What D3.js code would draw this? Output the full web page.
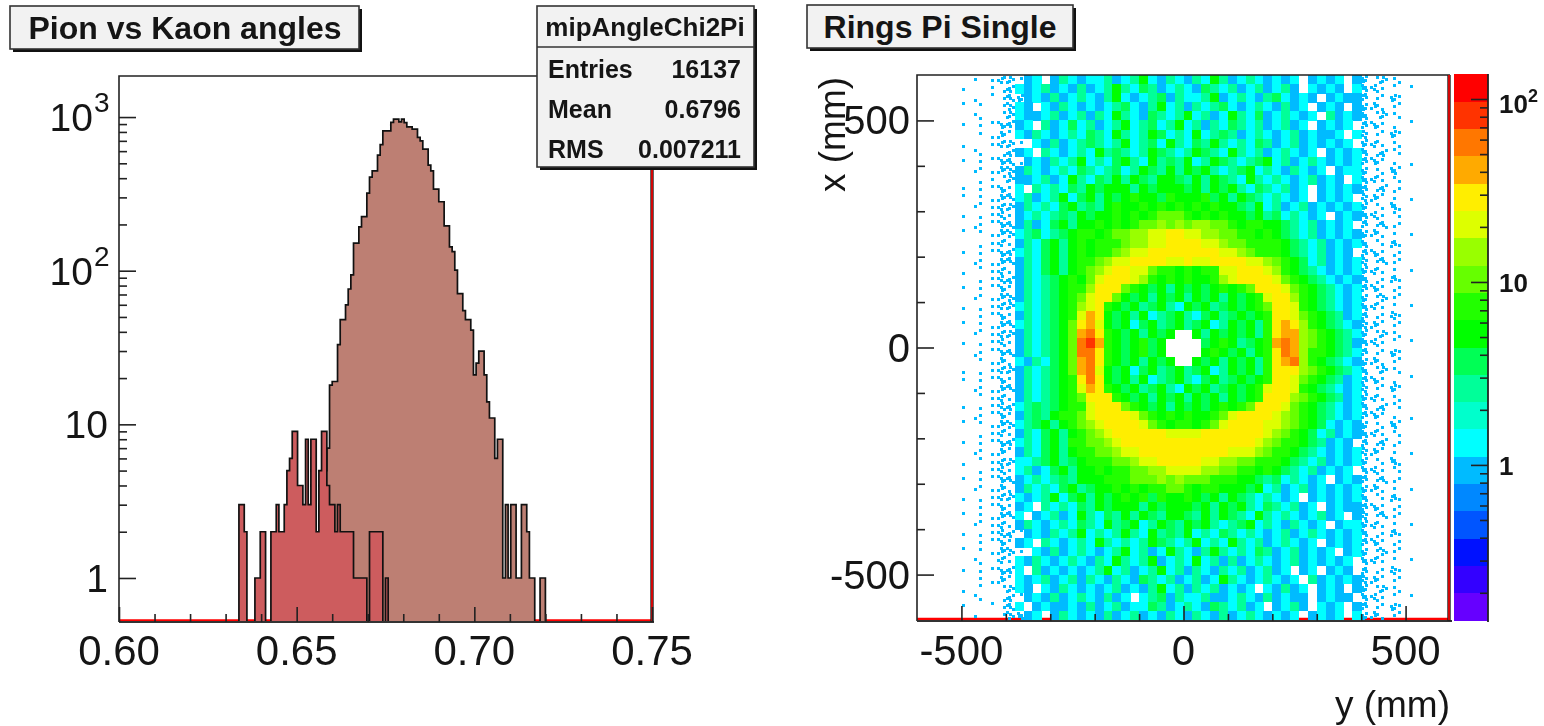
<!DOCTYPE html>
<html lang="en">
<head>
<meta charset="utf-8">
<script src="https://cdn.jsdelivr.net/npm/d3@7"></script>
<style>
  html, body { margin: 0; padding: 0; background: #fff; }
  svg { display: block; filter: blur(0.45px); font-family: "Liberation Sans", Arial, sans-serif; }
</style>
</head>
<body>
<script>
// left histogram: counts per bin, 200 bins over 0.60 - 0.75
const binCount = 200
const angleRange = [0.60, 0.75]
const pionFirstBin = 72
const pionCounts = [1,2,1,3,4,5,7,18,19,19,33,48,48,60,76,94,151,151,193,225,225,320,406,447,447,565,661,813,813,813,922,968,968,930,968,920,864,864,834,834,737,700,618,618,486,447,340,340,281,281,196,196,143,133,101,71,71,55,48,48,41,21,25,30,30,21,14,11,11,6,8,8,1,3,1,3,3,1,1,3,3,2,1,1,0,0,1,1]
const kaonFirstBin = 45
const kaonCounts = [3,3,2,0,0,0,1,1,2,2,0,0,2,2,3,2,2,3,5,6,9,9,4,4,3,8,3,8,8,2,5,9,9,4,3,3,2,3,2,2,2,2,2,1,1,1,1,1,0,2,2,2,2,2,0,1]
const angleMajor = [0.60, 0.65, 0.70, 0.75]
const angleMinor = [0.61,0.62,0.63,0.64,0.66,0.67,0.68,0.69,0.71,0.72,0.73,0.74]
const countMajor = [1, 10, 100, 1000]
const countMinor = [2,3,4,5,6,7,8,9,20,30,40,50,60,70,80,90,200,300,400,500,600,700,800,900]

const statsTitle = 'mipAngleChi2Pi'
const statsNames = ['Entries', 'Mean', 'RMS']
const statsValues = ['16137', '0.6796', '0.007211']

// right map: palette level per 20 mm cell, rows from x=+600 down, columns from y=-600
// . = empty, z = one single hit, y = a few single hits, a..n = palette levels
const ringRows = [
'......z.zyyzab.acbabbcabcfbacbacbfcabcbabab.abab.ayzyzz.....',
'.....z..zzybabcabacabcfcbecabcbaecbcabcabca.baba.byyzz.z....',
'......z.zzyyabacabcbacfbabceacbbcfabcbacebaba.abaayzzyz.....',
'.....z.z.zyba.bacbababcebacfbcacbcebabcbacab.aba.ayyzzz.....',
'......zz.zybaabcabcacbfcbaecbcfbcabfcbeabcbab.cabayzyzz.....',
'.....z.zzyyab.cabebcabcfbcebcfbcacbecbcabcab.abab.yyzz.z....',
'.......zzyzbacbabcbecbfcbcfebcbfbcecabcbabcabaab.byzzyz.....',
'.....z..zyyz.bacabcecbcfbcebfcbecfcbcbecabcababab.yyzzz.....',
'......zz.zyab.cbabcbfcecbcfecbcfecbfcbcabcbab.ababyzyzz.....',
'.....z.zzyyzabacbcfbcbefcbfcecfbcfecbcefbcabcbababyyzz.z....',
'......zzzyyacbabcbecbcebcfecfcfefcbcefbcbacbab.abbyzzyz.....',
'.......zzzyaabcabfcbecfcfecffecfcfecbfcbcbabcaba.byyzzz.....',
'.....z.zzyzb.cbcbecfefffcfefffefcfefcbecbcab.ababayzyzz.....',
'.....z.zzyybcabcfbefcfefgffegfffgefcfecbcbab.abab.yyzz.z....',
'......zzzyyacbcbefcecfgffgfgfgfgfgffecfbcabcabababyzzyz.....',
'.....z.zzyzabcbcecfeffgfgfghhhgfgfgffefcebcbab.abayyzzz.....',
'......zzzyyacabefcffgfgfghhihihiihhgfggffecbcabab.yzyzz.....',
'.....z.zzyybcebcefggfghhiijjkkjjiihhggfgfecbcababayyzz.z....',
'.......zzyzacbefcfgfggghiijjkkkkjjihhggggfecbcababyzzyz.....',
'.....z.zzyybcbefcfgfgghijjkkkkkkkkjjihgggfecbcaba.yyzzz.....',
'......zzzyyacbefcfgghijjkkkkjjkjjkkkkjjihgfebcababyzyzz.....',
'.....z.zzyzacbefcfghijkkjjhggfgfggjjkkkjigfecbababyyzz.z....',
'.......zzyyacbcefgfhjkkkjigfgfgffgijkkkkjhgfecbabayzzyz.....',
'.....z.zzyzacbcefggikkkhgfefcfefefgfghkkkjhgfecbabyyzzz.....',
'......zzzyyacbcefghjkkhfefcfefcfefcfefgjkkigfecbabyzyzz.....',
'.....z.zzyybcbcefgijkgfefcefcbfefcefefghkkjgfecbabyyzz.z....',
'.......zzyzacbcefgjlkfefcfbcefcbefcefefgkkjhgfecabyzzyz.....',
'.....z.zzyybcbcefhkljfefbefcefcefbcfefcgklkigfecbayyzzz.....',
'......zzzyyacbcefhlmkgfefcfef..fcfefefcgkllihgfecbyzyzz.....',
'.....z.zzyzacbcefhmnlgfefgef....efgfcefglmlihgfecayyzz.z....',
'......zzzyyacbcefhmmkgfefgef....fgfefcfgkmliggfecbyzzyz.....',
'.......zzyzbacbefhlmkgfefcfef..fefcfefcgklmigfecbayyzzz.....',
'.....z.zzyyacbcefhlmjfefbefcefcefbcfefcgkkkihgfecbyzyzz.....',
'.....z.zzyzacbcefgkmkfefcfbcefcbefcefefgkkjhgfecabyyzz.z....',
'......zzzyyacbcefgjlkgfefcefcbfefcefefgjkkjgfecbabyzzyz.....',
'.......zzyzacbcefghkkkgfefcfefcfefcfefgkkkihgfecabyyzzz.....',
'.....z.zzyybcecefggjkkkhgfefcfefefgfghkkkjhgfecbabyzyzz.....',
'......zzzyzacecfgghjkkkkjhgfgfgffghjkkkkjihgfecbabyyzz.z....',
'.....z.zzyybcefcfghijkkkkjhgfggfghjkkkkjjihgfebabayzzyz.....',
'.......zzyzacbefcfghijkkkkkkjjjjkkkkkkkjihgfebcabayyzzz.....',
'.....z.zzyybcbefcgghhijkkkkkkkkkkkkkkkjihggfecaba.yzyzz.....',
'......zzzyzacbefcfgghhijjkkkkkkkkkkjjjihggfecbababyyzz.z....',
'.....z.zzyybbcefcefggghhijjkkkkkjjiihhgggfecbcababyzzyz.....',
'.......zzyzbcabefcffgfgghhiijjjjiihhggfgfecbcabab.yyzzz.....',
'.....z.zzyyabcbcecfffggghhhihihhhgggffecebcbab.abayzyzz.....',
'......zzzyzacbcbefceffgfgfgghhgfggfffefbcabcabababyyzz.z....',
'.....z.zzyybabcfbefcfefgfgegffgfefcfecbcbab.abababyzzyz.....',
'.......zzyzab.cbcbecfefffcfefffefcfefcbecbcab.abaayyzzz.....',
'.....z.zzyyb.abcabfcbecfcfecffecfcfecbfcbcbabcab.ayzyzz.....',
'......zzzyzacbabcbecbfcefbcfecfefcbcefbcbacbab.abbyyzz.z....',
'.....z.zzyyzabacbcfbcbcfcbfcecfbcbecbcbabcabcbababyzzyz.....',
'.......zzyzab.cbabcbfcbcbcfecbcfbcbfcbcabcbab.ababyyzzz.....',
'.....z.zzyyz.bacabcbabcfbcabfcbacfcbcbecabcabab.abyzyzz.....',
'......zz.yzbacbabcbacbfcbcfabcbfbcacabcbabcababab.yyzz.z....',
'.....z.zzyyb.cabababcfbcabcfbcacbacbcabcab.ab.aba.yzzyz.....',
'.......zzyzbabcabcacbacbaecbcabcabfcbabcbab.cababayyzzz.....',
'.....z.z.zyba.bacbababcabacfbcacbcabab.bacab.aba.ayzyzz.....',
'......zz.zyzabacabcbacab.bceacbbcaabcbacabaa.abaa.yyzz.z....',
'.....z..zzyb.abaabacabcabbecabcbaecbcab.abca.bab.ayzzyz.....',
'......z..zyyab.acbabacabcabacbacbacabcbabab.abab.byyzzz.....'
]
const mapMajor = [-500, 0, 500]
const mapMinor = [-400,-300,-200,-100,100,200,300,400]
const paletteColors = ['#6600ff','#3300ff','#0011ff','#0055ff','#0088ff','#00bbff','#00ffff','#00ffcc','#00ff99','#00ff55','#00ff00','#22ff00','#66ff00','#99ff00','#ddff00','#ffee00','#ffaa00','#ff7700','#ff3300','#ff0000']
const levelKeys = 'abcdefghijklmn'
const keyLevels = [5,6,8,8,9,10,11,12,13,14,15,16,17,18]
const zMajor = [1, 10, 100]
const zMinor = [0.2,0.3,0.4,0.5,0.6,0.7,0.8,0.9,2,3,4,5,6,7,8,9,20,30,40,50,60,70,80,90]

const w = 1544
const h = 726
const ink = '#222'
const svg = d3.select('body').append('svg').attr('width', w).attr('height', h)

function styleAxis (g) {
  g.select('.domain').remove()
  g.selectAll('line').attr('stroke', ink).attr('stroke-width', 1.6)
  g.selectAll('text').remove()
}

function label (x, y, txt, size, anchor, weight) {
  return svg.append('text')
    .attr('x', x).attr('y', y)
    .attr('font-size', size)
    .attr('font-weight', weight || 'normal')
    .attr('text-anchor', anchor || 'middle')
    .attr('fill', '#151515')
    .text(txt)
}

function box (x0, y0, x1, y1) {
  svg.append('rect').attr('x', x0 + 3).attr('y', y0 + 3).attr('width', x1 - x0).attr('height', y1 - y0).attr('fill', '#111')
  svg.append('rect').attr('x', x0).attr('y', y0).attr('width', x1 - x0).attr('height', y1 - y0)
    .attr('fill', '#f2f2f2').attr('stroke', '#333').attr('stroke-width', 1.6)
}

// ---- left panel
const xAngle = d3.scaleLinear().domain(angleRange).range([119, 652])
const yCount = d3.scaleLog().domain([0.517, 1850]).range([622, 76])
const floorCount = yCount.domain()[0]
const binWidth = (angleRange[1] - angleRange[0]) / binCount

svg.append('clipPath').attr('id', 'histClip').append('rect')
  .attr('x', 119).attr('y', 76).attr('width', 533).attr('height', 546)

svg.append('line').attr('x1', 119).attr('x2', 652).attr('y1', 620.5).attr('y2', 620.5)
  .attr('stroke', '#f00').attr('stroke-width', 2.4)

function histPoints (first, counts) {
  const pts = counts.map(function (c, i) {
    return {x: angleRange[0] + (first + i) * binWidth, c: Math.max(c, floorCount)}
  })
  pts.unshift({x: angleRange[0] + first * binWidth, c: floorCount})
  pts.push({x: angleRange[0] + (first + counts.length) * binWidth, c: floorCount})
  return pts
}

const histArea = d3.area().curve(d3.curveStepAfter)
  .x(function (d) { return xAngle(d.x) })
  .y0(622)
  .y1(function (d) { return yCount(d.c) })
const histLine = d3.line().curve(d3.curveStepAfter)
  .x(function (d) { return xAngle(d.x) })
  .y(function (d) { return yCount(d.c) })

const hists = [
  {first: pionFirstBin, counts: pionCounts, fill: '#bd7f73'},
  {first: kaonFirstBin, counts: kaonCounts, fill: '#cd5c5e'}
]
svg.selectAll('g.hist')
  .data(hists)
  .enter()
  .append('g')
  .attr('class', 'hist')
  .attr('clip-path', 'url(#histClip)')
  .each(function (d) {
    const pts = histPoints(d.first, d.counts)
    d3.select(this).append('path').attr('d', histArea(pts)).attr('fill', d.fill)
    d3.select(this).append('path').attr('d', histLine(pts)).attr('fill', 'none').attr('stroke', '#111').attr('stroke-width', 1.7)
  })

// frame and ticks
svg.append('path').attr('d', 'M119,622V76H652').attr('fill', 'none').attr('stroke', ink).attr('stroke-width', 1.6)
svg.append('line').attr('x1', 119).attr('x2', 654).attr('y1', 622).attr('y2', 622).attr('stroke', '#333').attr('stroke-width', 1.8)
svg.append('line').attr('x1', 652).attr('x2', 652).attr('y1', 76).attr('y2', 622).attr('stroke', '#222').attr('stroke-width', 3.4)
svg.append('line').attr('x1', 652).attr('x2', 652).attr('y1', 76).attr('y2', 621).attr('stroke', '#f00').attr('stroke-width', 1.6)

svg.append('g').attr('transform', 'translate(0,622)').call(d3.axisTop(xAngle).tickValues(angleMajor).tickSize(15)).call(styleAxis)
svg.append('g').attr('transform', 'translate(0,622)').call(d3.axisTop(xAngle).tickValues(angleMinor).tickSize(8)).call(styleAxis)
svg.append('g').attr('transform', 'translate(119,0)').call(d3.axisRight(yCount).tickValues(countMajor).tickSize(17)).call(styleAxis)
svg.append('g').attr('transform', 'translate(119,0)').call(d3.axisRight(yCount).tickValues(countMinor).tickSize(8)).call(styleAxis)

angleMajor.forEach(function (v) { label(xAngle(v), 665, d3.format('.2f')(v), 42) })
countMajor.forEach(function (v) {
  const e = Math.round(Math.log10(v))
  label(e > 1 ? 93 : 108, yCount(v) + 14, e === 0 ? '1' : '10', 39, 'end')
  if (e > 1) {
    svg.append('text').attr('x', 94).attr('y', yCount(v) - 5).attr('font-size', 28).attr('fill', '#151515').text(e)
  }
})

box(10, 6, 359, 49)
label(185, 39, 'Pion vs Kaon angles', 32, 'middle', 'bold')

box(537, 6, 754, 167)
svg.append('line').attr('x1', 537).attr('x2', 754).attr('y1', 47).attr('y2', 47).attr('stroke', '#333').attr('stroke-width', 1.6)
label(645, 36, statsTitle, 26, 'middle', 'bold')
statsNames.forEach(function (n, i) {
  label(548, 78 + i * 40, n, 25, 'start', 'bold')
  label(741, 78 + i * 40, statsValues[i], 25, 'end', 'bold')
})

// ---- right panel
const xMap = d3.scaleLinear().domain([-600, 600]).range([917, 1450])
const yMap = d3.scaleLinear().domain([-600, 600]).range([620, 75])
const colorZ = d3.scaleLog().domain([0.142, 137]).range([620, 74])
const colBand = d3.scaleBand().domain(d3.range(60)).range(xMap.range())
const rowBand = d3.scaleBand().domain(d3.range(ringRows.length)).range([yMap(600), yMap(-600)])
const levelBand = d3.scaleBand().domain(d3.range(paletteColors.length)).range([620, 74])
const levelColor = d3.scaleOrdinal().domain(d3.range(paletteColors.length)).range(paletteColors)

svg.append('line').attr('x1', 917).attr('x2', 1450).attr('y1', 619).attr('y2', 619)
  .attr('stroke', '#f00').attr('stroke-width', 2.4)

const cells = []
const dots = []
ringRows.forEach(function (row, r) {
  row.split('').forEach(function (ch, c) {
    const k = levelKeys.indexOf(ch)
    if (k >= 0) cells.push({r: r, c: c, level: keyLevels[k]})
    if (ch === 'z') dots.push({r: r, c: c, n: 0})
    if (ch === 'y') [0, 1, 2, 3].forEach(function (n) { dots.push({r: r, c: c, n: n}) })
  })
})
svg.append('g').attr('shape-rendering', 'crispEdges')
  .selectAll('rect')
  .data(cells)
  .enter()
  .append('rect')
  .attr('x', function (d) { return colBand(d.c) })
  .attr('y', function (d) { return rowBand(d.r) })
  .attr('width', colBand.bandwidth() + 0.5)
  .attr('height', rowBand.bandwidth() + 0.5)
  .attr('fill', function (d) { return levelColor(d.level) })

// sparse hits stay small, nudged inside their cell so they do not line up
svg.append('g').attr('shape-rendering', 'crispEdges')
  .selectAll('rect')
  .data(dots)
  .enter()
  .append('rect')
  .attr('x', function (d) { return colBand(d.c) + (d.r * 7 + d.c * 3 + d.n * 4) % 7 })
  .attr('y', function (d) { return rowBand(d.r) + (d.r * 5 + d.c * 11 + d.n * 5) % 7 })
  .attr('width', 3)
  .attr('height', 3)
  .attr('fill', levelColor(5))

svg.append('path').attr('d', 'M917,621V75H1450').attr('fill', 'none').attr('stroke', ink).attr('stroke-width', 1.6)
svg.append('line').attr('x1', 917).attr('x2', 1452).attr('y1', 621).attr('y2', 621).attr('stroke', '#333').attr('stroke-width', 1.8)
svg.append('line').attr('x1', 1449).attr('x2', 1449).attr('y1', 75).attr('y2', 621).attr('stroke', '#222').attr('stroke-width', 3.4)
svg.append('line').attr('x1', 1449).attr('x2', 1449).attr('y1', 75).attr('y2', 620).attr('stroke', '#f00').attr('stroke-width', 1.6)

svg.append('g').attr('transform', 'translate(0,621)').call(d3.axisTop(xMap).tickValues(mapMajor).tickSize(15)).call(styleAxis)
svg.append('g').attr('transform', 'translate(0,621)').call(d3.axisTop(xMap).tickValues(mapMinor).tickSize(7)).call(styleAxis)
svg.append('g').attr('transform', 'translate(917,0)').call(d3.axisRight(yMap).tickValues(mapMajor).tickSize(17)).call(styleAxis)
svg.append('g').attr('transform', 'translate(917,0)').call(d3.axisRight(yMap).tickValues(mapMinor).tickSize(8)).call(styleAxis)

mapMajor.forEach(function (v) {
  label(xMap(v), 665, v, 42)
  label(910, yMap(v) + 14, v, 40, 'end')
})
label(1450, 717, 'y (mm)', 37, 'end')
svg.append('text')
  .attr('transform', 'translate(845,192) rotate(-90)')
  .attr('font-size', 37).attr('fill', '#151515')
  .text('x (mm)')

box(807, 5, 1073, 48)
label(940, 38, 'Rings Pi Single', 32, 'middle', 'bold')

// palette
svg.append('g').attr('shape-rendering', 'crispEdges')
  .selectAll('rect')
  .data(paletteColors)
  .enter()
  .append('rect')
  .attr('x', 1454)
  .attr('y', function (d, i) { return levelBand(i) })
  .attr('width', 34)
  .attr('height', levelBand.bandwidth() + 0.5)
  .attr('fill', function (d) { return d })

svg.append('line').attr('x1', 1488).attr('x2', 1488).attr('y1', 74).attr('y2', 622).attr('stroke', ink).attr('stroke-width', 1.8)
svg.append('g').attr('transform', 'translate(1488,0)').call(d3.axisLeft(colorZ).tickValues(zMajor).tickSize(17)).call(styleAxis)
svg.append('g').attr('transform', 'translate(1488,0)').call(d3.axisLeft(colorZ).tickValues(zMinor).tickSize(8)).call(styleAxis)

label(1499, colorZ(1) + 10, '1', 26, 'start', 'bold')
label(1499, colorZ(10) + 10, '10', 26, 'start', 'bold')
label(1499, colorZ(100) + 14, '10', 26, 'start', 'bold')
label(1528, colorZ(100) + 3, '2', 18, 'start', 'bold')
</script>
</body>
</html>
